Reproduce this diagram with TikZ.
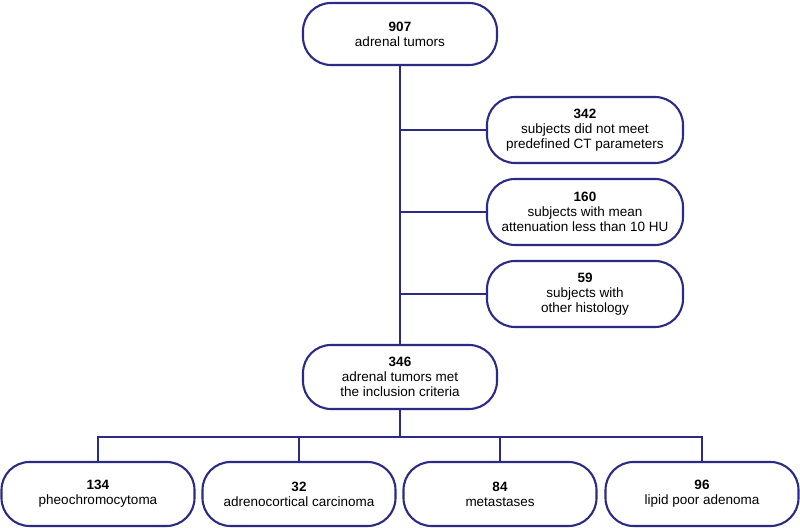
\documentclass[tikz,border=0pt]{standalone}
\usepackage{fontspec}
\setmainfont{Liberation Sans}
\usepackage{tikz}
\definecolor{navy}{RGB}{43,42,132}
\tikzset{
	flowbox/.style={draw=navy, line width=1.5pt, rounded corners=0.7cm, align=center,
		minimum width=4.85cm, minimum height=1.6cm, font=\fontsize{9.6}{10.7}\selectfont},
	link/.style={draw=navy, line width=1.5pt}
}

\begin{document}
\begin{tikzpicture}
%		\draw [help lines] (0,0) grid (20,13);
		\useasboundingbox (0,0) rectangle (20,13.2);
		\node [flowbox, minimum height=1.55cm] (all) at (10,12.35) {\textbf{907}\\adrenal tumors};
		\node [flowbox, minimum width=4.9cm, minimum height=1.65cm] (ct) at (14.625,9.95) {\textbf{342}\\subjects did not meet\\predefined CT parameters};
		\node [flowbox, minimum width=4.9cm, minimum height=1.65cm] (hu) at (14.625,7.9) {\textbf{160}\\subjects with mean\\attenuation less than 10 HU};
		\node [flowbox, minimum width=4.9cm, minimum height=1.65cm] (histo) at (14.625,5.85) {\textbf{59}\\subjects with\\other histology};
		\node [flowbox] (incl) at (10,3.775) {\textbf{346}\\adrenal tumors met\\the inclusion criteria};
		\node [flowbox, minimum width=4.825cm] (pheo) at (2.45,0.85) {\textbf{134}\\pheochromocytoma};
		\node [flowbox, minimum width=4.825cm] (acc) at (7.475,0.85) {\textbf{32}\\adrenocortical carcinoma};
		\node [flowbox, minimum width=4.825cm] (meta) at (12.5,0.85) {\textbf{84}\\metastases};
		\node [flowbox, minimum width=4.825cm] (lpa) at (17.55,0.85) {\textbf{96}\\lipid poor adenoma};
		\coordinate (bus) at (10,2.275);
		\draw [link] (all) -- (incl);
		\draw [link] (all.south |- ct.west) -- (ct.west);
		\draw [link] (all.south |- hu.west) -- (hu.west);
		\draw [link] (all.south |- histo.west) -- (histo.west);
		\draw [link] (incl) -- (bus);
		\draw [link] (pheo.north) |- (bus) -| (lpa.north);
		\draw [link] (acc.north) -- (acc.north |- bus);
		\draw [link] (meta.north) -- (meta.north |- bus);
\end{tikzpicture}
\end{document}
